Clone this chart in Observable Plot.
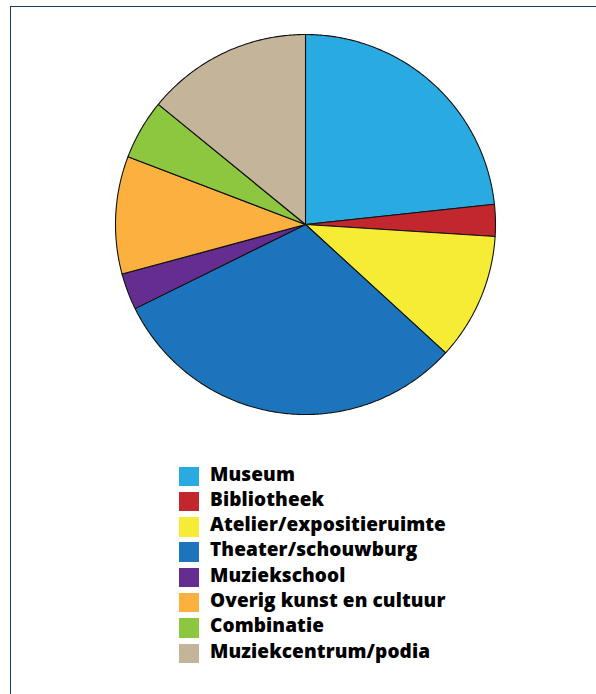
<!DOCTYPE html>
<html>
<head>
<meta charset="utf-8">
<script src="https://cdn.jsdelivr.net/npm/d3@7"></script>
<script src="https://cdn.jsdelivr.net/npm/@observablehq/plot@0.6"></script>
<style>
  html, body { margin: 0; padding: 0; background: #fff; }
  body { width: 596px; height: 694px; position: relative; overflow: hidden; font-family: "Open Sans", "DejaVu Sans", sans-serif; }
  #frame { position: absolute; left: 10px; top: 6px; width: 700px; height: 800px; border-left: 1.5px solid #123e60; border-top: 1.5px solid #123e60; }
  #chart { position: absolute; left: 0; top: 0; }
  #legend { position: absolute; left: 179px; top: 466px; }
  .row { position: relative; height: 25.3px; }
  .sw { position: absolute; left: 0; top: 0.5px; width: 20px; height: 19.5px; }
  .lb { position: absolute; left: 31px; top: -5.5px; font-size: 19px; font-weight: 800; color: #000; white-space: nowrap; letter-spacing: 0.1px; }
</style>
</head>
<body>
<div id="frame"></div>
<div id="chart"></div>
<div id="legend"></div>
<script>
// Share of each type of cultural venue (percent)
const categories = [
  "Museum",
  "Bibliotheek",
  "Atelier/expositieruimte",
  "Theater/schouwburg",
  "Muziekschool",
  "Overig kunst en cultuur",
  "Combinatie",
  "Muziekcentrum/podia"
];
const shares = [23.3, 2.7, 10.8, 30.9, 3.1, 10.0, 5.1, 14.1];
const colors = ["#29abe2", "#c1272d", "#f7ec35", "#1c75bc", "#662d91", "#fbb040", "#8dc63f", "#c4b59a"];

// Slice outlines in unit-circle coordinates, clockwise from 12 o'clock
const total = d3.sum(shares);
const outline = [];
let start = 0;
categories.forEach((name, i) => {
  const sweep = shares[i] / total * 2 * Math.PI;
  const steps = Math.max(2, Math.ceil(sweep / 0.01));
  outline.push({name, x: 0, y: 0});
  for (let k = 0; k <= steps; ++k) {
    const a = start + sweep * k / steps;
    outline.push({name, x: Math.sin(a), y: Math.cos(a)});
  }
  outline.push({name, x: 0, y: 0});
  start += sweep;
});

const chart = Plot.plot({
  width: 596,
  height: 440,
  margin: 0,
  x: {domain: [-1, 1], range: [115, 495], axis: null},
  y: {domain: [-1, 1], range: [414, 34], axis: null},
  color: {domain: categories, range: colors},
  marks: [
    Plot.line(outline, {
      x: "x", y: "y", z: "name",
      fill: "name",
      stroke: "#111",
      strokeWidth: 1.1,
      strokeLinejoin: "round",
      curve: "linear"
    })
  ]
});
document.getElementById("chart").appendChild(chart);

// Legend
const legend = d3.select("#legend");
categories.forEach((name, i) => {
  const row = legend.append("div").attr("class", "row");
  row.append("div").attr("class", "sw").style("background", colors[i]);
  row.append("div").attr("class", "lb").text(name);
});
</script>
</body>
</html>
